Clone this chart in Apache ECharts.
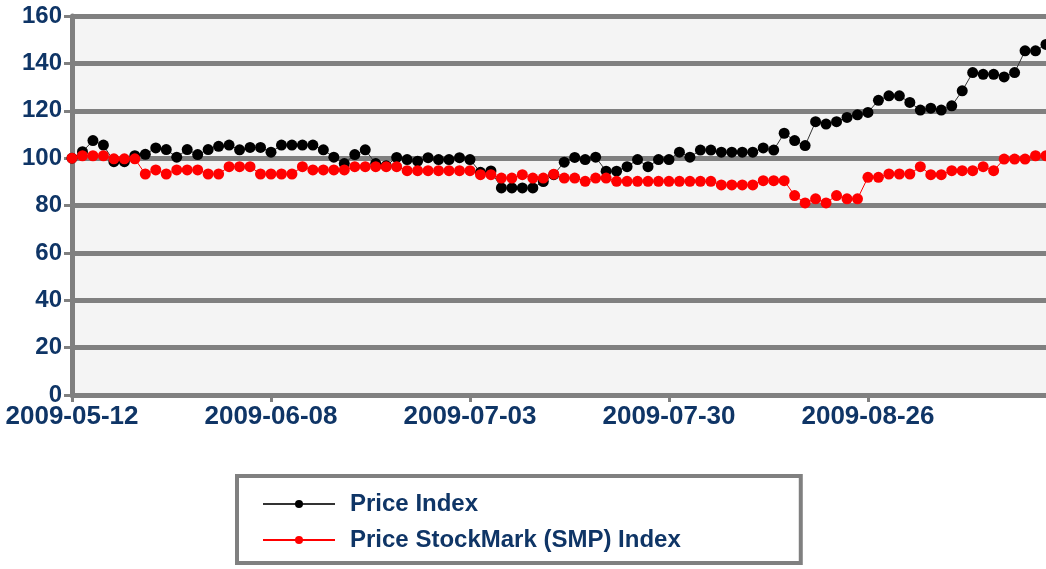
<!DOCTYPE html>
<html>
<head>
<meta charset="utf-8">
<script src="https://cdn.jsdelivr.net/npm/echarts@6/dist/echarts.min.js"></script>
<style>
  html, body { margin: 0; padding: 0; background: #fff; }
  #chart { width: 1046px; height: 569px; }
</style>
</head>
<body>
<div id="chart"></div>
<script>
// trading days (weekdays) from 2009-05-12 to 2009-09-18
const dates = [];
(function () {
  const d = new Date(Date.UTC(2009, 4, 12));
  const end = new Date(Date.UTC(2009, 8, 18));
  while (d <= end) {
    const wd = d.getUTCDay();
    if (wd !== 0 && wd !== 6) dates.push(d.toISOString().slice(0, 10));
    d.setUTCDate(d.getUTCDate() + 1);
  }
})();

const priceIndex = [
  100, 102.7, 107.4, 105.5, 98.5, 98.5, 101, 101.6, 104.3, 103.6,
  100.4, 103.6, 101.5, 103.6, 105, 105.5, 103.5, 104.5, 104.5, 102.5,
  105.5, 105.5, 105.5, 105.5, 103.5, 100.4, 97.7, 101.5, 103.5, 97.7,
  96.8, 100.3, 99.4, 98.7, 100.2, 99.4, 99.4, 100.2, 99.4, 94,
  94.6, 87.4, 87.4, 87.4, 87.4, 90.1, 93, 98.3, 100.3, 99.4,
  100.4, 94.5, 94.5, 96.4, 99.4, 96.4, 99.4, 99.4, 102.5, 100.4,
  103.4, 103.4, 102.5, 102.5, 102.5, 102.5, 104.3, 103.4, 110.5, 107.4,
  105.3, 115.4, 114.4, 115.4, 117.2, 118.3, 119.3, 124.4, 126.3, 126.3,
  123.5, 120.3, 121.1, 120.3, 122.1, 128.4, 136.1, 135.4, 135.4, 134.3,
  136.1, 145.3, 145.3, 148
];

const smpIndex = [
  100, 101, 101, 101, 99.7, 99.7, 99.7, 93.3, 95, 93.3,
  95, 95, 95, 93.3, 93.3, 96.4, 96.4, 96.4, 93.3, 93.3,
  93.3, 93.3, 96.4, 95, 95, 95, 95, 96.4, 96.4, 96.4,
  96.4, 96.4, 94.7, 94.7, 94.7, 94.7, 94.7, 94.7, 94.7, 93,
  93, 91.6, 91.6, 93, 91.6, 91.6, 93.2, 91.6, 91.6, 90.2,
  91.6, 91.6, 90.2, 90.2, 90.2, 90.2, 90.2, 90.2, 90.2, 90.2,
  90.2, 90.2, 88.7, 88.7, 88.7, 88.7, 90.5, 90.5, 90.5, 84.2,
  81.1, 82.8, 81.1, 84.2, 82.8, 82.8, 91.9, 91.9, 93.3, 93.3,
  93.3, 96.4, 93, 93, 94.7, 94.7, 94.7, 96.4, 94.7, 99.6,
  99.6, 99.6, 101, 101
];

const seriesNames = ['Price Index', 'Price StockMark (SMP) Index'];

const textColor = '#0f3566';
const gridGray = '#808080';
const fontFam = '"Liberation Sans", Arial, sans-serif';

const chart = echarts.init(document.getElementById('chart'));

chart.setOption({
  animation: false,
  grid: {
    left: 72, right: 0, top: 16, bottom: 174,
    show: true, backgroundColor: '#f4f4f4', borderWidth: 0
  },
  legend: {
    data: seriesNames,
    orient: 'vertical',
    left: 237, top: 476,
    padding: [14, 120, 9, 25],
    backgroundColor: '#fff',
    borderColor: gridGray,
    borderWidth: 4,
    itemWidth: 72,
    itemHeight: 10,
    itemGap: 8,
    textStyle: {
      color: textColor, fontSize: 24, fontWeight: 'bold', fontFamily: fontFam,
      lineHeight: 28, padding: [0, 0, 0, 10]
    }
  },
  xAxis: {
    type: 'category',
    data: dates,
    boundaryGap: false,
    axisLine: { lineStyle: { color: gridGray, width: 5 } },
    axisTick: { show: true, interval: 18, length: 7, lineStyle: { color: gridGray, width: 3 } },
    axisLabel: {
      interval: 18, margin: 9,
      color: textColor, fontSize: 26, fontWeight: 'bold', fontFamily: fontFam
    },
    splitLine: { show: false }
  },
  yAxis: {
    type: 'value',
    min: 0, max: 160, interval: 20,
    axisLine: { show: true, lineStyle: { color: gridGray, width: 5 } },
    axisTick: { show: true, length: 8, lineStyle: { color: gridGray, width: 3 } },
    axisLabel: {
      margin: 10,
      color: textColor, fontSize: 24, fontWeight: 'bold', fontFamily: fontFam
    },
    splitLine: { lineStyle: { color: gridGray, width: 5 } }
  },
  series: [
    {
      name: seriesNames[0],
      type: 'line',
      data: priceIndex,
      symbol: 'circle',
      symbolSize: 11,
      showAllSymbol: true,
      clip: false,
      itemStyle: { color: '#000' },
      lineStyle: { color: '#333', width: 1 }
    },
    {
      name: seriesNames[1],
      type: 'line',
      data: smpIndex,
      symbol: 'circle',
      symbolSize: 11,
      showAllSymbol: true,
      clip: false,
      itemStyle: { color: '#ff0000' },
      lineStyle: { color: '#ff0000', width: 1 }
    }
  ]
});
</script>
</body>
</html>
